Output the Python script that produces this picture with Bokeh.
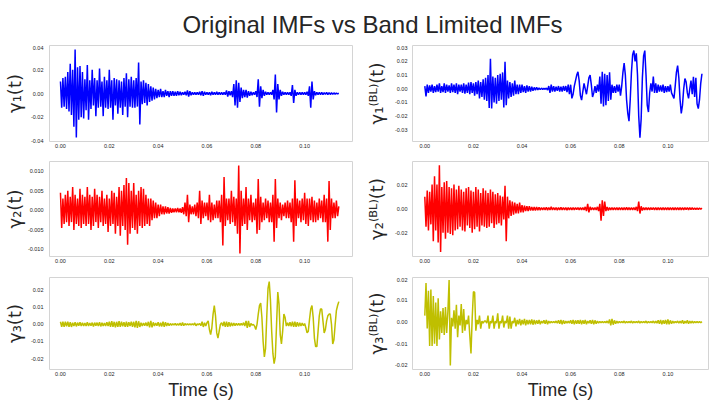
import numpy as np
from bokeh.plotting import figure
from bokeh.models import Range1d, FixedTicker, PrintfTickFormatter, Label
from bokeh.layouts import column, row
from bokeh.embed import file_html
from bokeh.resources import INLINE

# ---------------- data (signal values in units of 1e-3, sampled every DT seconds) --------------
DT = 0.0005
SCALE = 1e-3
TIME_TICKS = [0.0, 0.02, 0.04, 0.06, 0.08, 0.10]

TITLE = "Original IMFs vs Band Limited IMFs"
XLABEL = "Time (s)"
YLABELS_ORIG = ["γ₁(t)", "γ₂(t)", "γ₃(t)"]
YLABELS_BL = ["γ₁⁽ᴮᴸ⁾(t)", "γ₂⁽ᴮᴸ⁾(t)", "γ₃⁽ᴮᴸ⁾(t)"]

imf1 = [
    10, -12, 13, -11, 14, -13, 18, -15, 25, -18,
    20, -28, 37, -37, 22, -22, 23, -20, 18, -21,
    12, -14, 24, -22, 11, -13, 20, -10, 13, -19,
    11, -12, 21, -11, 10, -19, 14, -12, 11, -13,
    20, -12, 11, -22, 13, -10, 12, -17, 11, -12,
    10, -18, 13, -11, 17, -20, 12, -11, 14, -12,
    11, -12, 13, -11, 26, -26, 10, -9, 11, -8,
    9, -10, 8, -7, 6, -6, 5, -5, 4, -4,
    3, -3, 4, -3, 2, -3, 3, -2, 2, -3,
    2, -2, 2, -2, 1.5, -2, 2, -1.5, 1.5, -1.5,
    1, -1, 1.5, -1.5, 2.5, -2.5, 2, -1.5, 1, -1,
    1, -1, 1, -1, 1.5, -1.5, 2, -2, 1.5, -1,
    1, -1, 1, -1.5, 1.5, -1, 1, -1, 1.5, -1,
    1, -1, 1, -1, 1, -1, 2.5, -2.5, 2, -1.5,
    2, -3, 8, -10, 11, -12, 9, -7, 5, -4,
    3, -3, 3, -3.5, 2, -2, 1.5, -1.5, 1, -1,
    2, -3, 12, -11, 6, -4, 3, -2, 1.5, -1,
    1, -1, 1, -1, 3, -5, 16, -16, 8, -5,
    3, -2, 1.5, -1, 1, -1, 1, -1, 1, -2,
    7, -8, 3, -2, 1, -1, 1, -1, 1, -1,
    1, -1, 1.5, -2, 6, -12, 10, -5, 2, -1.5,
    1, -1, 1, -1, 1, -1, 0.8, -0.8, 1, -1,
    0.8, -0.8, 0.6, -0.6, 0.5, -0.5, 0.4, -0.3, 0.2,
]

imf2 = [
    4.5, -4.5, 3, -3.5, 4, -3, 5, -4, 3.5, -3,
    6, -5, 4, -3.5, 3, -4, 5.5, -4.5, 4, -3.5,
    3.5, -4, 6, -3.5, 4, -5, 3.5, -4, 5.5, -3,
    4, -4.5, 3.5, -3, 5, -4, 3, -3.5, 4, -5.5,
    3, -4, 5, -3.5, 4.5, -6, 3.5, -4, 6, -6.5,
    5, -4, 6.5, -5, 8.3, -8.8, 7, -6, 5, -4.5,
    7, -5, 4, -6, 5, -4, 6, -4.5, 5.5, -4,
    4, -3.5, 3, -4, 3, -2.5, 2.5, -2, 2, -2,
    1.5, -1.5, 1.5, -1, 1, -1, 1, -0.8, 0.8, -0.8,
    0.6, -0.6, 0.5, -0.5, 0.5, -0.5, 0.6, -0.5, 0.5, -0.6,
    0.8, -1, 2, -1.5, 4, -3, 1.5, -1, 1, -1,
    1.5, -1.5, 2, -2, 5, -3.5, 2.5, -2, 2, -1.5,
    2, -2.5, 4, -3, 2, -2.5, 1.5, -2, 2.5, -2,
    2.5, -3, 4, -9, 8.5, -4, 3, -2.5, 3, -3.5,
    5, -3, 3.5, -4, 3, -6, 11.5, -11, 5, -4,
    3, -3.5, 6, -5, 3, -2.5, 4, -3, 2, -2.5,
    3, -6, 8, -5, 3.5, -3, 2, -2.5, 3, -2,
    2.5, -3, 2, -3, 4, -8, 8, -4.5, 3, -2,
    2, -2.5, 1.5, -1.5, 2, -2, 2.5, -2, 2, -3,
    3, -8, 7.7, -4, 3, -2, 2.5, -3, 3, -2.5,
    4.5, -3.5, 3, -4, 3, -2.5, 3.5, -3, 2.5, -3,
    2, -2.5, 3, -2, 2.5, -3, 4, -3, 3, -8,
    7.5, -5, 3, -2, 2, -2, 2.5, -1.5, 1,
]

imf3 = [
    1.5, -1.5, 1.5, -1.5, 1.5, -1.2, 1.5, -1.5, 1.2, -1.5,
    1, -1, 1.2, -1.2, 1, -0.8, 1.2, -1, 1, -1,
    0.8, -1, 1.2, -1, 0.8, -0.8, 1, -1.2, 1, -0.8,
    1, -1, 1.2, -1.2, 1, -1, 0.8, -1, 1.2, -1,
    1.5, -1.5, 1.8, -1.5, 1.5, -1.8, 1.5, -1.5, 1.8, -1.5,
    1.5, -1.2, 1.2, -1.5, 1.5, -1.5, 1.2, -1, 1.5, -1.5,
    1.5, -1.8, 2, -2, 1.8, -1.5, 1, -1, 0.8, -0.8,
    1, -1, 1.5, -1.8, 2, -1.8, 1.2, -1, 0.8, -0.8,
    1.2, -1.2, 1, -1.2, 1.5, -1.5, 1.2, -1, 0.8, -0.8,
    0.5, -0.5, 0.4, -0.4, 0.5, -0.5, 0.4, -0.5, 0.8, -0.8,
    1, -0.8, 0.5, -0.4, 0.3, -0.3, 0.3, -0.3, 0.4, -0.4,
    0.8, -0.8, 0.3, -0.3, 0.5, -0.8, 1.5, -1.5, 1, -1,
    1, 2, -3, -6, -2, 6, 11, 5, -5, -8,
    -4, 0, 1, -1, 1.5, -1.5, 1.5, -1.5, 1.2, -1.2,
    1, -1, 0.8, -0.8, 0.6, -0.6, 0.5, -0.5, 0.5, -0.5,
    1, -1, 2, -2, 2, -1.5, 0.5, -0.5, 0, -1,
    -3, 0, 6, 11, 12.4, 4, -10, -19, -14, 5,
    21, 25, 14, -4, -17, -23, -19, 0, 18.9, 12,
    -6, -11.5, -4, 6, 4, -1, 1, -1, 1.2, -1.2,
    1.5, -1.5, 1.5, -1.5, 1.2, -1.2, 1, -1, 0.8, -0.8,
    0.5, -2, -5, -4, 3, 9, 11, 4, -8, -13,
    -13, -4, 5, 9, 9, 2, -5, -3, 2, 5,
    6, 6, 0, -11.5, -9, 0, 8, 11, 13.3,
]

imf1_bl = [
    2, -5.5, 3, -3, 2.5, -2, 3, -3, 2, -2.5,
    3, -2, 4, -3, 2, -2.5, 4, -3, 3, -2,
    2.5, -3, 4, -2.5, 3, -3, 4, -4, 3, -2,
    3, -3, 4, -3.5, 3, -3, 4.5, -4, 5, -3,
    4, -5, 5, -4, 6, -7, 5, -6, 7, -8,
    8, -9, 10, -14, 22, -14.4, 9, -10, 8, -11,
    10, -9, 11, -8, 12, -13.6, 19.7, -12, 6, -7,
    5, -6, 4, -5, 6, -4, 3, -4, 3, -3,
    3, -2.5, 2, -3, 2.5, -2, 2, -2, 1.5, -1.5,
    1, -1, 1, -0.8, 0.6, -0.6, 0.5, -0.5, 0.4, -0.4,
    0.5, -1, 2, -3, 3, -2, 2, -2, 1.5, -1.5,
    2, -2, 1.5, -2, 2, -1.5, 2, -2.5, 3, -4,
    3, -7, -4, 2, 6, 10, 12.4, 6, -5, -8.3,
    -2, 4, 0, -4, 2, 8, 10, 3, -6, -3,
    2, -3, 3, -2, 9, -11, 12.4, -13, 11, -12,
    10, -9, 12, -8, 3, -3, 2, -3, 3, -2,
    3, -5, 2, 12, 18.8, 10, -8, -18, -23.7, -8,
    12, 25, 28, 20, 26, 10, -20, -35.9, -22, 8,
    24, 28, 10, -12, -17, -3, 4, -2, 9, -3,
    4, -3, 3, -2, 2.5, -2, 3, -3, 2, -2.5,
    2, -2, 3, -3, -5, -7, 2, 12, 17, 8,
    -8, -18, -12, 0, 7.5, 5, -3, -7, 0, 6,
    -4, 8.8, -6, 8, -11, -14.5, -8, 4, 11,
]

imf2_bl = [
    10, -15, 15, -18, 14, -13, 20, -27, 27, -18,
    20, -28, 36, -36, 18, -20, 22, -25, 23, -20,
    18, -21, 17, -22, 20, -18, 16, -17, 19, -15,
    16, -18, 14, -19, 17, -14, 18, -16, 15, -20,
    14, -17, 18, -15, 16, -19, 13, -14, 17, -15,
    15, -16, 13, -15, 16, -12, 14, -16, 12, -13,
    13, -12, 11, -14, 10, -9, 19, -27, 10, -8,
    7, -6, 6, -5, 5, -4, 4, -4, 5, -3,
    3, -3, 2.5, -2, 2, -2, 2, -1.5, 1.5, -1.5,
    1.5, -1.5, 1.5, -1.2, 1.2, -1.2, 1, -1, 1, -1,
    1.2, -1.2, 1, -1, 1.5, -1, 1, -1, 1, -1.2,
    1, -1, 1.2, -1, 1, -1, 1, -1.2, 1, -1,
    1, -1, 1, -1, 1, -0.8, 1, -1, 1, -1,
    1, -1, 1.5, -2, 4, -3, 1.5, -1, 1, -1,
    1, -1, 1.5, -2, 4, -10, 7, -6, 6, -2,
    1.5, -1.5, 1, -1, 1, -1, 1, -1, 1, -1,
    1, -1, 1, -1, 1, -1, 1.2, -1, 1, -1,
    1, -1, 1, -1, 1.5, -2, 6, -4, 2, -1.5,
    1, -1, 1, -1, 1, -1, 0.8, -0.8, 1, -1,
    1, -1, 1, -1, 1, -1, 1, -1, 1, -1,
    1, -1, 1, -1, 1, -1, 1, -1, 1, -1,
    1, -1, 1, -1, 0.8, -0.8, 1, -1, 0.8, -0.8,
    0.8, -0.8, 0.6, -0.6, 0.6, -0.6, 0.5, -0.5, 0.5,
]

imf3_bl = [
    3, 18, -3, 14.5, -11, 15, -11, 12, -10, 9,
    -11, 11, -8, 5, -5, 6.5, -6, 7, -5, 5,
    19.4, -20, 2, -2, 5.5, -3, 8, -7, 3, -1.5,
    8.3, -5, 6, -4, 1, -1, 3, -6, -14.5, 2,
    14, 13.8, -4, 1, -1, 3, -3, 0.5, -0.5, 0.5,
    0.5, -0.5, 3, -3, 0.5, -0.5, 3, -3, 0.5, -0.5,
    4, -3, 0.5, -0.5, 3, -2.5, 0.5, -0.5, 3, -3,
    2.5, -3, 0.5, -0.5, 2, -2, 1, -1, 1.5, -1.5,
    1, -1, 1.5, -1.5, 1, -1, 1, -1, 1.2, -1.2,
    1, -1, 0.8, -0.8, 1, -1, 0.5, -0.5, 0.8, -0.8,
    1, -1, 0.5, -0.5, 0.3, -0.3, 0.3, -0.3, 0.5, -0.5,
    0.8, -0.8, 1, -1, 0.8, -0.8, 0.5, -0.5, 0.5, -0.5,
    0.8, -0.8, 1, -1, 0.8, -0.8, 0.8, -0.8, 1, -1,
    0.8, -0.8, 1, -1, 0.5, -0.5, 0.8, -0.8, 1, -1,
    0.8, -0.8, 0.5, -0.5, 0.3, -0.3, 0.3, -0.3, 0.3, -0.3,
    0.5, -0.5, 1.2, -1.5, 1.5, -1.2, 0.8, -0.8, 0.5, -0.5,
    0.3, -0.3, 0.3, -0.3, 0.5, -0.5, 0.3, -0.3, 0.3, -0.3,
    0.5, -0.5, 0.3, -0.3, 0.3, -0.3, 0.5, -0.5, 0.3, -0.3,
    0.3, -0.3, 0.5, -0.5, 0.3, -0.3, 0.3, -0.3, 0.5, -0.5,
    0.5, -0.5, 0.8, -0.8, 1, -1, 0.8, -0.8, 1, -1,
    1.2, -1, 0.8, -0.8, 0.5, -0.5, 0.3, -0.3, 0.5, -0.5,
    0.5, -0.5, 0.8, -0.8, 0.5, -0.5, 0.8, -0.8, 0.5, -0.5,
    0.5, -0.5, 0.3, -0.3, 0.3, -0.3, 0.3, -0.3, 0.2,
]

# ---------------- styling ----------------
FONT = "Liberation Sans"
MATH_FONT = "DejaVu Sans"
TXT = "#262626"

LEFT = dict(fw=304, bl=48, br=6, tick_standoff=6)
RIGHT = dict(fw=296, bl=54, br=11, tick_standoff=5)


def panel(vals, color, side, xr, yr, yticks, yfmt, frame_h, bottom, ylabel, label_standoff,
          xlabel=False):
    g = LEFT if side == "left" else RIGHT
    p = figure(width=g["bl"] + g["fw"] + g["br"], height=frame_h + bottom,
               x_range=Range1d(*xr), y_range=Range1d(*yr),
               output_backend="svg", toolbar_location=None,
               min_border_left=g["bl"], min_border_right=g["br"],
               min_border_top=0, min_border_bottom=bottom)
    t = np.arange(len(vals)) * DT
    y = np.array(vals, dtype=float) * SCALE
    p.line(t, y, line_color=color, line_width=1.5)
    p.grid.visible = False
    p.outline_line_color = "#d4d4d4"
    p.outline_line_width = 1
    p.background_fill_color = "white"
    p.border_fill_color = "white"
    p.xaxis.ticker = FixedTicker(ticks=TIME_TICKS)
    p.xaxis.formatter = PrintfTickFormatter(format="%.2f")
    p.yaxis.ticker = FixedTicker(ticks=yticks)
    p.yaxis.formatter = PrintfTickFormatter(format=yfmt)
    for ax in (p.xaxis[0], p.yaxis[0]):
        ax.axis_line_color = None
        ax.major_tick_line_color = None
        ax.minor_tick_line_color = None
        ax.major_tick_out = 0
        ax.major_tick_in = 0
        ax.minor_tick_out = 0
        ax.minor_tick_in = 0
        ax.major_label_text_font = FONT
        ax.major_label_text_font_size = "5.5px"
        ax.major_label_text_color = TXT
    p.xaxis.major_label_standoff = 2
    p.yaxis.major_label_standoff = g["tick_standoff"]
    p.yaxis.axis_label = ylabel
    p.yaxis.axis_label_text_font = MATH_FONT
    p.yaxis.axis_label_text_font_size = "18px"
    p.yaxis.axis_label_text_font_style = "normal"
    p.yaxis.axis_label_text_color = TXT
    p.yaxis.axis_label_standoff = label_standoff
    if xlabel:
        p.xaxis.axis_label = XLABEL
        p.xaxis.axis_label_text_font = FONT
        p.xaxis.axis_label_text_font_size = "18px"
        p.xaxis.axis_label_text_font_style = "normal"
        p.xaxis.axis_label_text_color = TXT
        p.xaxis.axis_label_standoff = 1
    return p


XR_L = (-0.00449, 0.1196)
XR_R = (-0.00506, 0.1167)

L1 = panel(imf1, "#0000ff", "left", XR_L, (-0.0403, 0.0403),
           [-0.04, -0.02, 0.0, 0.02, 0.04], "%.2f", 96, 20, YLABELS_ORIG[0], 3)
R1 = panel(imf1_bl, "#0000ff", "right", XR_R, (-0.0386, 0.0317),
           [-0.03, -0.02, -0.01, 0.0, 0.01, 0.02, 0.03], "%.2f", 96, 20, YLABELS_BL[0], 5)
L2 = panel(imf2, "#ff0000", "left", XR_L, (-0.0118, 0.0125),
           [-0.01, -0.005, 0.0, 0.005, 0.01], "%.3f", 95, 21, YLABELS_ORIG[1], 0)
R2 = panel(imf2_bl, "#ff0000", "right", XR_R, (-0.0397, 0.0392),
           [-0.02, 0.0, 0.02], "%.2f", 95, 21, YLABELS_BL[1], 5)
L3 = panel(imf3, "#bfbf00", "left", XR_L, (-0.0264, 0.0274),
           [-0.02, -0.01, 0.0, 0.01, 0.02], "%.2f", 95, 30, YLABELS_ORIG[2], 3, xlabel=True)
R3 = panel(imf3_bl, "#bfbf00", "right", XR_R, (-0.0219, 0.0206),
           [-0.02, -0.01, 0.0, 0.01, 0.02], "%.2f", 95, 30, YLABELS_BL[2], 5, xlabel=True)

tf = figure(width=719, height=45, x_range=Range1d(0, 719), y_range=Range1d(0, 45),
            output_backend="svg", toolbar_location=None, x_axis_type=None, y_axis_type=None,
            min_border=0, outline_line_color=None)
tf.add_layout(Label(x=372, y=21.5, x_units="screen", y_units="screen", text=TITLE,
                    text_align="center", text_baseline="alphabetic", text_font=FONT,
                    text_font_size="24px", text_color=TXT))

layout = column(tf, row(L1, R1), row(L2, R2), row(L3, R3))
open("out.html", "w").write(file_html(layout, INLINE))
